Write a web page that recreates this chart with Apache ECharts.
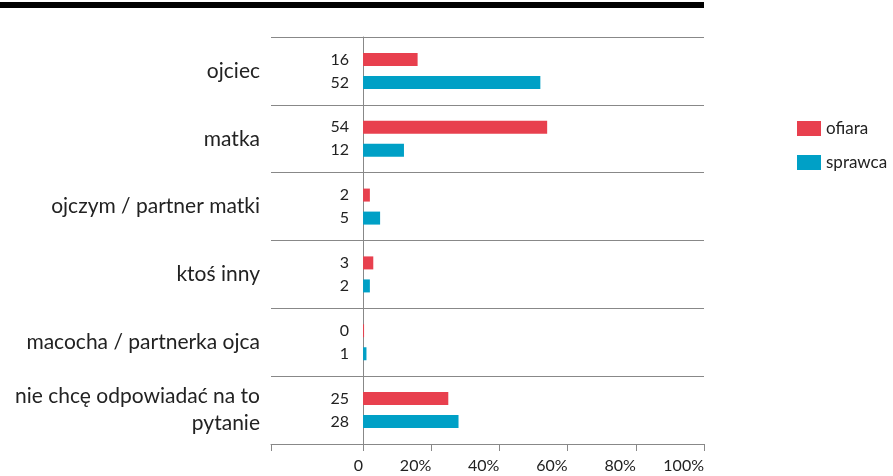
<!DOCTYPE html>
<html>
<head>
<meta charset="utf-8">
<script src="https://cdn.jsdelivr.net/npm/echarts@6/dist/echarts.min.js"></script>
<style>
  html, body { margin: 0; padding: 0; background: #fff; }
  #chart { width: 893px; height: 476px; }
</style>
</head>
<body>
<div id="chart"></div>
<script>
// data (percent)
const categories = ['ojciec', 'matka', 'ojczym / partner matki', 'ktoś inny', 'macocha / partnerka ojca', 'nie chcę odpowiadać na to\npytanie'];
const ofiara = [16, 54, 2, 3, 0, 25];
const sprawca = [52, 12, 5, 2, 1, 28];
const tickValues = [-27, 0, 20, 40, 60, 80, 100];
const labelValues = [0, 20, 40, 60, 80, 100];

const chart = echarts.init(document.getElementById('chart'), null, { renderer: 'canvas' });

const barLabel = {
  show: true,
  position: 'left',
  distance: 14,
  fontSize: 16,
  color: '#222',
  fontFamily: 'Lato'
};

chart.setOption({
  animation: false,
  textStyle: { fontFamily: 'Lato' },
  graphic: [{
    type: 'rect',
    shape: { x: 0, y: 2, width: 704, height: 6 },
    style: { fill: '#000' }
  }],
  legend: {
    orient: 'vertical',
    left: 797,
    top: 120,
    padding: 0,
    itemWidth: 24,
    itemHeight: 15,
    itemGap: 17,
    icon: 'rect',
    textStyle: { fontSize: 17, color: '#222', fontFamily: 'Lato' },
    data: ['ofiara', 'sprawca']
  },
  grid: { left: 271, right: 189, top: 37, bottom: 32 },
  xAxis: {
    type: 'value',
    min: -27,
    max: 100,
    axisLine: { show: true, lineStyle: { color: '#888', width: 1 } },
    axisTick: { show: true, length: 7, customValues: tickValues, lineStyle: { color: '#888' } },
    axisLabel: {
      customValues: labelValues,
      align: 'right',
      margin: 14,
      fontSize: 16,
      color: '#222',
      formatter: v => v === 0 ? '0' : v + '%'
    },
    splitLine: { show: false }
  },
  yAxis: {
    type: 'category',
    inverse: true,
    data: categories,
    axisLine: { show: true, lineStyle: { color: '#888', width: 1 } },
    axisTick: { show: true, length: 4, lineStyle: { color: '#888' } },
    axisLabel: { fontSize: 21, color: '#222', margin: 11, lineHeight: 27, align: 'right' },
    splitLine: { show: true, lineStyle: { color: '#888', width: 1 } }
  },
  series: [
    {
      name: 'ofiara',
      type: 'bar',
      data: ofiara,
      barWidth: 13,
      barGap: '77%',
      barMinHeight: 1,
      itemStyle: { color: '#E8404E' },
      label: barLabel
    },
    {
      name: 'sprawca',
      type: 'bar',
      data: sprawca,
      barWidth: 13,
      barGap: '77%',
      barMinHeight: 1,
      itemStyle: { color: '#00A0C6' },
      label: barLabel
    }
  ]
});
</script>
</body>
</html>
